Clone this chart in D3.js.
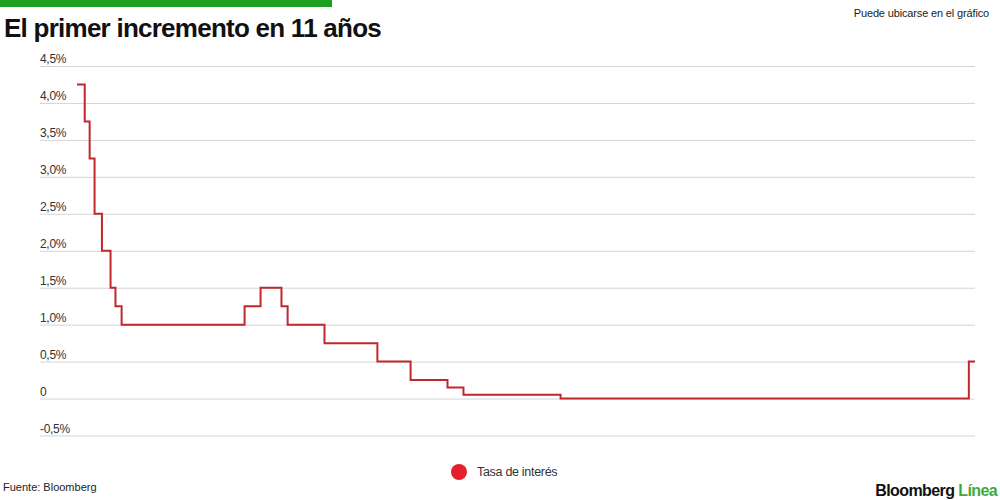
<!DOCTYPE html>
<html>
<head>
<meta charset="utf-8">
<script src="https://cdn.jsdelivr.net/npm/d3@7"></script>
<style>
  body { margin: 0; background: #fff; }
  svg { display: block; font-family: "Liberation Sans", Arial, sans-serif; }
</style>
</head>
<body>
<svg id="chart"></svg>
<script>
// tasa de interés, fechas de cambio
const dates = ["2008-09-01", "2008-10-15", "2008-11-12", "2008-12-10", "2009-01-21",
  "2009-03-11", "2009-04-08", "2009-05-13", "2011-04-13", "2011-07-13", "2011-11-09",
  "2011-12-14", "2012-07-11", "2013-05-08", "2013-11-13", "2014-06-11", "2014-09-10",
  "2016-03-16", "2022-07-27", "2022-08-31"];
const rates = [4.25, 3.75, 3.25, 2.5, 2.0, 1.5, 1.25, 1.0, 1.25, 1.5, 1.25,
  1.0, 0.75, 0.5, 0.25, 0.15, 0.05, 0.0, 0.5, 0.5];
const yTicks = [-0.5, 0, 0.5, 1.0, 1.5, 2.0, 2.5, 3.0, 3.5, 4.0, 4.5];
const yTickLabels = ["-0,5%", "0", "0,5%", "1,0%", "1,5%", "2,0%", "2,5%", "3,0%", "3,5%", "4,0%", "4,5%"];

let width = 1000;
let height = 500;

let svg = d3.select("#chart")
    .attr("width", width)
    .attr("height", height);

const parse = d3.timeParse("%Y-%m-%d");
const data = dates.map((d, i) => [parse(d), rates[i]]);

let xScale = d3.scaleTime()
    .domain(d3.extent(data, d => d[0]))
    .range([77, 975]);
let yScale = d3.scaleLinear()
    .domain([-0.5, 4.5])
    .range([435.5, 66]);

// cabecera
svg.append("rect")
    .attr("x", 0).attr("y", 0)
    .attr("width", 332).attr("height", 7)
    .attr("fill", "#1da01f");

svg.append("text")
    .text("El primer incremento en 11 años")
    .attr("x", 4).attr("y", 37)
    .attr("font-size", 26)
    .attr("font-weight", "bold")
    .attr("letter-spacing", -0.75)
    .attr("fill", "#111");

svg.append("text")
    .text("Puede ubicarse en el gráfico")
    .attr("x", 989).attr("y", 17)
    .attr("text-anchor", "end")
    .attr("font-size", 11)
    .attr("letter-spacing", -0.15)
    .attr("fill", "#222");

// eje y con líneas de cuadrícula
let yAxis = d3.axisLeft(yScale)
    .tickValues(yTicks)
    .tickSize(-(975 - 40))
    .tickFormat((d, i) => yTickLabels[i]);

let gy = svg.append("g")
    .attr("class", "yaxis axis")
    .attr("transform", "translate(40,0)")
    .call(yAxis);
gy.select(".domain").remove();
gy.selectAll(".tick line")
    .attr("stroke", "#d4d4d4")
    .attr("stroke-width", 1);
gy.selectAll(".tick text")
    .attr("x", 0)
    .attr("dy", -3.5)
    .attr("text-anchor", "start")
    .attr("font-size", 12)
    .attr("letter-spacing", -0.3)
    .attr("fill", "#333");

// línea escalonada
let line = d3.line()
    .curve(d3.curveStepAfter)
    .x(d => xScale(d[0]))
    .y(d => yScale(d[1]));

svg.append("path")
    .datum(data)
    .attr("d", line)
    .attr("fill", "none")
    .attr("stroke", "#c1272d")
    .attr("stroke-width", 2);

// leyenda
svg.append("circle")
    .attr("cx", 459).attr("cy", 472)
    .attr("r", 8)
    .attr("fill", "#e3202b");
svg.append("text")
    .text("Tasa de interés")
    .attr("x", 477).attr("y", 476)
    .attr("font-size", 12.5)
    .attr("letter-spacing", -0.3)
    .attr("fill", "#333");

// pie
svg.append("text")
    .text("Fuente: Bloomberg")
    .attr("x", 3).attr("y", 491)
    .attr("font-size", 11)
    .attr("fill", "#222");

let brand = svg.append("text")
    .attr("x", 997).attr("y", 496)
    .attr("text-anchor", "end")
    .attr("font-size", 16)
    .attr("font-weight", "bold")
    .attr("letter-spacing", -0.6);
brand.append("tspan").text("Bloomberg ").attr("fill", "#111");
brand.append("tspan").text("Línea").attr("fill", "#3fa83a");
</script>
</body>
</html>
